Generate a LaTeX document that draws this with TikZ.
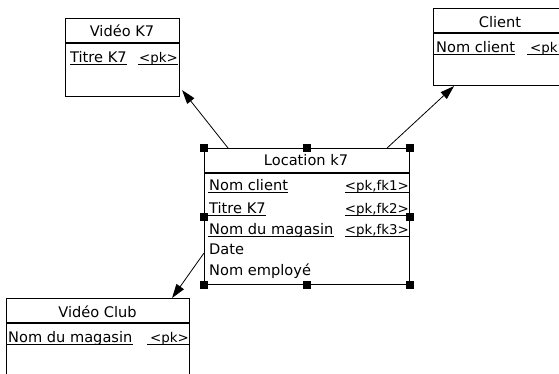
\documentclass[tikz,border=0pt]{standalone}
\usepackage{fontspec}
\setmainfont{DejaVu Sans}
\usetikzlibrary{arrows.meta}
\begin{document}
\begin{tikzpicture}[x=1pt,y=-1pt,
  tbl/.style={draw=black,line width=1.1pt,rectangle,inner sep=0pt,anchor=north west},
  txt/.style={inner sep=0pt,font=\fontsize{14.6}{17}\selectfont},
  key/.style={inner sep=0pt,font=\fontsize{13.4}{16}\selectfont},
  sep/.style={line width=1.1pt},
  ul/.style={line width=1pt},
  rel/.style={line width=0.8pt,-{Triangle[length=14pt,width=9pt]}},
  handle/.style={fill=black,inner sep=0pt,minimum size=8pt,rectangle}]
\clip (0,0) rectangle (559,373);
\fill[white] (0,0) rectangle (559,373);

% ---------- Vidéo K7 ----------
\node[tbl,minimum width=114pt,minimum height=78pt] (vk) at (65,18) {};
\draw[sep] ([yshift=-25pt]vk.north west) -- ([yshift=-25pt]vk.north east);
\node[txt,anchor=base] (vkt) at (122,36) {Vidéo K7};
\node[txt,anchor=base west] (vka) at (70,62) {Titre K7};
\node[key,anchor=base east] (vkk) at (178,62) {<pk>};
\draw[ul] ([yshift=-2.5pt]vka.base west) -- ([yshift=-2.5pt]vka.base east);
\draw[ul] ([yshift=-2.5pt,xshift=-40pt]vkk.base east) -- ([yshift=-2.5pt]vkk.base east);

% ---------- Client ----------
\node[tbl,minimum width=134pt,minimum height=77pt] (cl) at (433,8) {};
\draw[sep] ([yshift=-25pt]cl.north west) -- ([yshift=-25pt]cl.north east);
\node[txt,anchor=base] (clt) at (500,27) {Client};
\node[txt,anchor=base west] (cla) at (436,52) {Nom client};
\node[key,anchor=base west] (clk) at (530,52) {<pk>};
\draw[ul] ([yshift=-2.5pt,xshift=-3pt]cla.base west) -- ([yshift=-2.5pt]cla.base east);
\draw[ul] ([yshift=-2.5pt,xshift=-3pt]clk.base west) -- ([yshift=-2.5pt,xshift=40pt]clk.base west);

% ---------- Location k7 ----------
\node[tbl,minimum width=205pt,minimum height=136pt] (loc) at (204,148) {};
\draw[sep] ([yshift=-25pt]loc.north west) -- ([yshift=-25pt]loc.north east);
\node[txt,anchor=base] (loct) at (306,165) {Location k7};
\node[txt,anchor=base west] (la1) at (209,190) {Nom client};
\node[txt,anchor=base west] (la2) at (209,213) {Titre K7};
\node[txt,anchor=base west] (la3) at (209,234) {Nom du magasin};
\node[txt,anchor=base west] (la4) at (209,254) {Date};
\node[txt,anchor=base west] (la5) at (209,275) {Nom employé};
\node[key,anchor=base east] (lk1) at (409,190) {<pk,fk1>};
\node[key,anchor=base east] (lk2) at (409,213) {<pk,fk2>};
\node[key,anchor=base east] (lk3) at (409,234) {<pk,fk3>};
\foreach \n in {la1,la2,la3}
  \draw[ul] ([yshift=-2.5pt,xshift=-1pt]\n.base west) -- ([yshift=-2.5pt]\n.base east);
\foreach \n in {lk1,lk2,lk3}
  \draw[ul] ([yshift=-2.5pt,xshift=-64pt]\n.base east) -- ([yshift=-2.5pt]\n.base east);

% ---------- Vidéo Club ----------
\node[tbl,minimum width=183pt,minimum height=100pt] (vc) at (6,298) {};
\draw[sep] ([yshift=-25pt]vc.north west) -- ([yshift=-25pt]vc.north east);
\node[txt,anchor=base] (vct) at (97.5,317) {Vidéo Club};
\node[txt,anchor=base west] (vca) at (8,342) {Nom du magasin};
\node[key,anchor=base east] (vck) at (189,342) {<pk>};
\draw[ul] ([yshift=-2.5pt,xshift=-2pt]vca.base west) -- ([yshift=-2.5pt]vca.base east);
\draw[ul] ([yshift=-2.5pt,xshift=-42pt]vck.base east) -- ([yshift=-2.5pt]vck.base east);

% ---------- references ----------
\draw[rel] ([xshift=24pt]loc.north west) -- ([xshift=2pt,yshift=7pt]vk.south east);
\draw[rel] ([xshift=-23pt]loc.north east) -- ([xshift=21pt]cl.south west);
\draw[rel] ([yshift=-105pt]loc.north west) -- ([xshift=-18pt]vc.north east);

% ---------- selection handles ----------
\foreach \a/\i in {north west/1,north/2,north east/3,west/4,east/5,south west/6,south/7,south east/8}
  \node[handle] (h\i) at (loc.\a) {};
\end{tikzpicture}
\end{document}
